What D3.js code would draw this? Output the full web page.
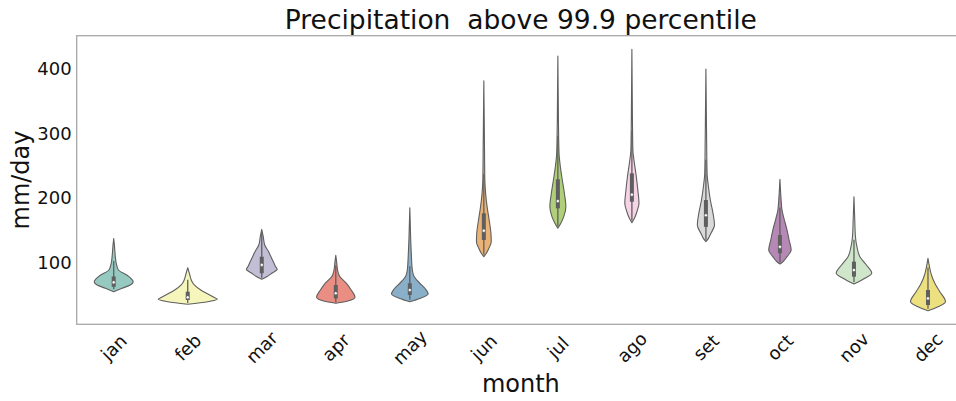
<!DOCTYPE html>
<html>
<head>
<meta charset="utf-8">
<script src="https://cdn.jsdelivr.net/npm/d3@7/dist/d3.min.js"></script>
<style>
  html, body { margin: 0; padding: 0; background: #fff; }
  svg { display: block; font-family: "DejaVu Sans", sans-serif; }
</style>
</head>
<body>
<svg id="chart" width="956" height="401"></svg>
<script>
// ---- data ----
const months = ["jan","feb","mar","apr","may","jun","jul","ago","set","oct","nov","dec"];
const palette = ["#8dd3c7","#ffffb3","#bebada","#fb8072","#80b1d3","#fdb462",
                 "#b3de69","#fccde5","#d9d9d9","#bc80bd","#ccebc5","#ffed6f"];
const yTicks = [100, 200, 300, 400];

// violin outline: values (mm/day) and relative half-widths (1 = widest violin)
const profileValues = [
  [54.4, 59.7, 64.8, 69.9, 75.2, 80.3, 88, 98.4, 111, 125, 137],
  [34.8, 38.9, 42.6, 45.7, 50.8, 57, 64.8, 72.5, 80.3, 91.6],
  [73.6, 77.7, 83, 89.1, 93.2, 101, 108.7, 116.5, 126.8, 139.7, 151],
  [36.4, 40, 45.7, 57, 67.4, 77.7, 88, 98.4, 111],
  [38.9, 44, 50.8, 59.7, 67.4, 77.7, 88, 114, 139.7, 184.7],
  [108.7, 114, 121.7, 132, 145, 165.6, 186.3, 207, 227.7, 289.8, 381.8],
  [152.8, 160.5, 170.8, 186.3, 207, 227.7, 248, 269, 315.7, 420],
  [161.5, 168.3, 178.5, 191.6, 212.2, 232.8, 253.6, 274, 315.7, 430.5],
  [132, 137.2, 145, 157.9, 176, 196.7, 217.3, 238, 289.8, 400],
  [97.4, 100.9, 108.7, 119.1, 134.6, 150.1, 165.6, 181.2, 196.7, 228.8],
  [66.3, 75.2, 82.9, 95.8, 108.7, 124.2, 139.7, 165.6, 201.8],
  [24.9, 31.1, 38.9, 54.4, 67.4, 82.9, 93.2, 106.2]
];
const profileWidths = [
  [0, 0.28, 0.56, 0.66, 0.58, 0.44, 0.16, 0.085, 0.05, 0.027, 0],
  [0, 0.68, 1.0, 0.88, 0.68, 0.44, 0.22, 0.12, 0.07, 0],
  [0, 0.17, 0.34, 0.52, 0.47, 0.39, 0.31, 0.23, 0.10, 0.05, 0],
  [0, 0.41, 0.65, 0.52, 0.36, 0.135, 0.06, 0.034, 0],
  [0, 0.34, 0.62, 0.51, 0.34, 0.15, 0.085, 0.05, 0.027, 0],
  [0, 0.085, 0.17, 0.25, 0.24, 0.18, 0.11, 0.06, 0.034, 0.02, 0],
  [0, 0.10, 0.20, 0.27, 0.22, 0.15, 0.085, 0.04, 0.02, 0],
  [0, 0.085, 0.17, 0.24, 0.20, 0.15, 0.085, 0.034, 0.02, 0],
  [0, 0.085, 0.17, 0.29, 0.24, 0.15, 0.085, 0.04, 0.024, 0],
  [0, 0.10, 0.24, 0.38, 0.31, 0.24, 0.15, 0.07, 0.04, 0],
  [0, 0.37, 0.60, 0.42, 0.20, 0.10, 0.05, 0.027, 0],
  [0, 0.34, 0.59, 0.40, 0.23, 0.10, 0.05, 0]
];
// inner box statistics
const q1          = [62, 41.5, 83, 44, 49.3, 134.6, 183.8, 194, 155, 114, 77.7, 33.7];
const median      = [69, 45.7, 96, 52, 57, 149, 195, 205, 173, 124, 88, 44];
const q3          = [78, 54.4, 108.7, 64.8, 67.4, 176, 228.8, 238, 196.7, 142.4, 101, 57];
const whiskerLow  = [58, 37, 76, 38, 42, 112, 156, 165, 135, 100, 69, 28];
const whiskerHigh = [102, 73, 145, 95, 94, 237, 296, 304, 259, 185, 135, 92];

// ---- layout ----
const margin = { left: 76.7, right: 965, top: 35.7, bottom: 324.3 };
const svg = d3.select("#chart");

const x = d3.scaleBand().domain(months).range([margin.left, margin.right]).padding(0);
const y = d3.scaleLinear().domain([3.8, 451.6]).range([margin.bottom, margin.top]);
const w = d3.scaleLinear().domain([0, 1]).range([0, x.bandwidth() * 0.4]);
const lineGray = "#5f5f5f";

const fills = palette.map(c => { const h = d3.hsl(c); h.s *= 0.75; return h.formatHex(); });

// violins
const g = svg.append("g");
months.forEach((m, i) => {
  const cx = x(m) + x.bandwidth() / 2;
  const pts = profileValues[i].map((v, j) => ({ v, d: profileWidths[i][j] }));
  const area = d3.area()
    .curve(d3.curveMonotoneY)
    .y(p => y(p.v))
    .x0(p => cx - w(p.d))
    .x1(p => cx + w(p.d));
  g.append("path")
    .attr("d", area(pts))
    .attr("fill", fills[i])
    .attr("stroke", lineGray)
    .attr("stroke-width", 1.1)
    .attr("stroke-linejoin", "round");
  // whisker
  g.append("line")
    .attr("x1", cx).attr("x2", cx)
    .attr("y1", y(whiskerLow[i])).attr("y2", y(whiskerHigh[i]))
    .attr("stroke", lineGray).attr("stroke-width", 1.3);
  // box
  g.append("line")
    .attr("x1", cx).attr("x2", cx)
    .attr("y1", y(q1[i])).attr("y2", y(q3[i]))
    .attr("stroke", lineGray).attr("stroke-width", 4);
  // median
  g.append("circle")
    .attr("cx", cx).attr("cy", y(median[i]))
    .attr("r", 1.6)
    .attr("fill", "#fff")
    .attr("stroke", lineGray).attr("stroke-width", 0.6);
});

// frame
svg.append("rect")
  .attr("x", margin.left).attr("y", margin.top)
  .attr("width", margin.right - margin.left)
  .attr("height", margin.bottom - margin.top)
  .attr("fill", "none")
  .attr("stroke", "#a8a8a8")
  .attr("stroke-width", 1.3);

// y axis (labels only)
const yAxis = d3.axisLeft(y).tickValues(yTicks).tickSize(0).tickPadding(5);
const ya = svg.append("g").attr("transform", `translate(${margin.left},0)`).call(yAxis);
ya.select(".domain").remove();
ya.selectAll("text").attr("font-size", 18).attr("fill", "#111")
  .attr("font-family", "DejaVu Sans, sans-serif");

// x axis (rotated labels)
const xAxis = d3.axisBottom(x).tickSize(0).tickPadding(0);
const xa = svg.append("g").attr("transform", `translate(0,${margin.bottom})`).call(xAxis);
xa.select(".domain").remove();
xa.selectAll("text")
  .attr("font-size", 18).attr("fill", "#111")
  .attr("font-family", "DejaVu Sans, sans-serif")
  .attr("text-anchor", "middle")
  .attr("dy", null)
  .attr("y", 0)
  .attr("dominant-baseline", "central")
  .attr("transform", "translate(0,23) rotate(-45)");

// axis titles
svg.append("text")
  .attr("x", (margin.left + margin.right) / 2).attr("y", 392)
  .attr("text-anchor", "middle").attr("font-size", 24).attr("fill", "#111")
  .text("month");
svg.append("text")
  .attr("transform", `translate(29,${(margin.top + margin.bottom) / 2}) rotate(-90)`)
  .attr("text-anchor", "middle").attr("font-size", 24).attr("fill", "#111")
  .text("mm/day");
svg.append("text")
  .attr("x", (margin.left + margin.right) / 2).attr("y", 29)
  .attr("text-anchor", "middle").attr("font-size", 26.5).attr("fill", "#111")
  .attr("xml:space", "preserve").style("white-space", "pre")
  .text("Precipitation  above 99.9 percentile");
</script>
</body>
</html>
